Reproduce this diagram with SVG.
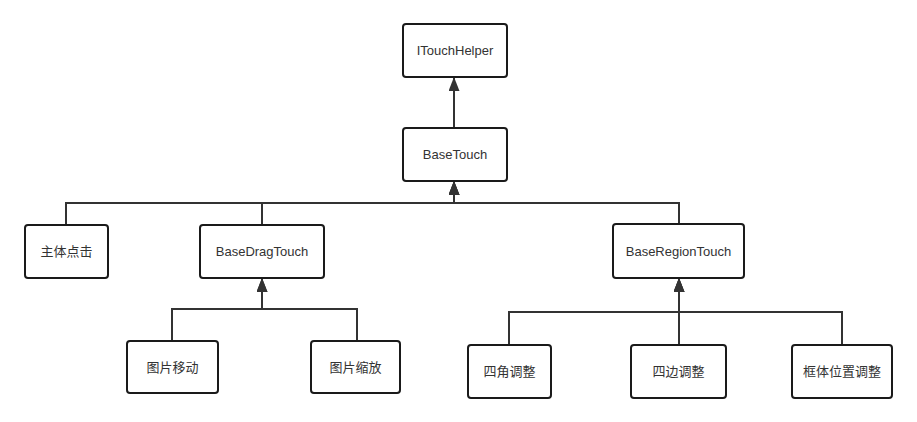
<svg xmlns="http://www.w3.org/2000/svg" width="917" height="422" viewBox="0 0 917 422">
<style>
.box{fill:#fff;stroke:#1a1a1a;stroke-width:2}
.lbl{font-family:"Liberation Sans","Noto Sans CJK SC",sans-serif;font-size:13px;fill:#333;text-anchor:middle;dominant-baseline:central}
.con{fill:none;stroke:#333;stroke-width:2}
</style>
<defs>
<marker id="arr" markerUnits="userSpaceOnUse" markerWidth="14" markerHeight="11" refX="14" refY="5.5" orient="auto">
<path d="M0,0 L14,5.5 L0,11 z" fill="#333"/>
</marker>
</defs>
<rect width="917" height="422" fill="#fff"/>
<g id="connectors">
<path class="con" d="M454 128 V77" marker-end="url(#arr)"/>
<path class="con" d="M66 225 V203 H454 V181" marker-end="url(#arr)"/>
<path class="con" d="M262 225 V203 H454 V181" marker-end="url(#arr)"/>
<path class="con" d="M679 224 V203 H454 V181" marker-end="url(#arr)"/>
<path class="con" d="M172 341 V309 H262 V278" marker-end="url(#arr)"/>
<path class="con" d="M357 341 V309 H262 V278" marker-end="url(#arr)"/>
<path class="con" d="M509 345 V312 H679 V278" marker-end="url(#arr)"/>
<path class="con" d="M679 345 V278" marker-end="url(#arr)"/>
<path class="con" d="M842 345 V312 H679 V278" marker-end="url(#arr)"/>
</g>
<g id="ITouchHelper"><rect class="box" x="403" y="24" width="104" height="53" rx="3"/><text class="lbl" x="455" y="50.5">ITouchHelper</text></g>
<g id="BaseTouch"><rect class="box" x="403" y="128" width="104" height="53" rx="3"/><text class="lbl" x="455" y="154.5">BaseTouch</text></g>
<g id="MainClick"><rect class="box" x="25" y="225" width="83" height="53" rx="3"/><text class="lbl" x="66.5" y="251.5">主体点击</text></g>
<g id="BaseDragTouch"><rect class="box" x="200" y="225" width="124" height="53" rx="3"/><text class="lbl" x="262" y="251.5">BaseDragTouch</text></g>
<g id="BaseRegionTouch"><rect class="box" x="613" y="224" width="131" height="54" rx="3"/><text class="lbl" x="678.5" y="251">BaseRegionTouch</text></g>
<g id="ImageMove"><rect class="box" x="127" y="341" width="91" height="52" rx="3"/><text class="lbl" x="172.5" y="367">图片移动</text></g>
<g id="ImageScale"><rect class="box" x="311" y="341" width="89" height="52" rx="3"/><text class="lbl" x="355.5" y="367">图片缩放</text></g>
<g id="CornerAdjust"><rect class="box" x="468" y="345" width="83" height="53" rx="3"/><text class="lbl" x="509.5" y="371.5">四角调整</text></g>
<g id="EdgeAdjust"><rect class="box" x="631" y="345" width="95" height="53" rx="3"/><text class="lbl" x="678.5" y="371.5">四边调整</text></g>
<g id="FrameAdjust"><rect class="box" x="792" y="345" width="100" height="53" rx="3"/><text class="lbl" x="842" y="371.5">框体位置调整</text></g>
</svg>
